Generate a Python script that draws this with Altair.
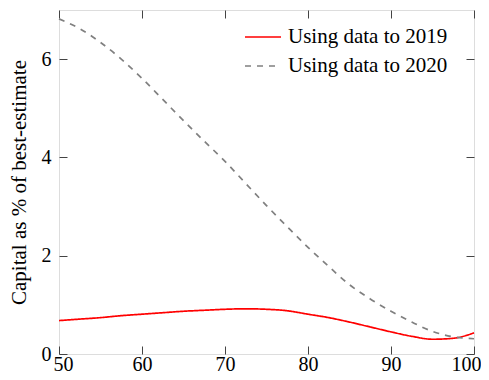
import altair as alt
import pandas as pd

x_vals = [50, 52.5, 55, 57.5, 60, 62.5, 65, 67.5, 70, 72.5, 75, 77.5, 80,
          82.5, 85, 87.5, 90, 92.5, 95, 97.5, 100]
y_2019 = [0.68, 0.71, 0.74, 0.78, 0.81, 0.84, 0.87, 0.89, 0.91, 0.92, 0.91,
          0.88, 0.81, 0.74, 0.65, 0.55, 0.45, 0.36, 0.30, 0.32, 0.43]
y_2020 = [6.82, 6.62, 6.34, 6.00, 5.61, 5.18, 4.75, 4.33, 3.92, 3.47, 3.02,
          2.59, 2.17, 1.78, 1.41, 1.12, 0.87, 0.65, 0.46, 0.35, 0.31]
series_names = ["Using data to 2019", "Using data to 2020"]
x_ticks = [50, 60, 70, 80, 90, 100]
y_ticks = [0, 2, 4, 6]

rows = []
for xv, a, b in zip(x_vals, y_2019, y_2020):
    rows.append({"x": xv, "y": a, "series": series_names[0]})
    rows.append({"x": xv, "y": b, "series": series_names[1]})
df = pd.DataFrame(rows)

FONT = "Liberation Serif"
xscale = alt.Scale(domain=[50, 100], nice=False, zero=False)
yscale = alt.Scale(domain=[0, 7], nice=False)

base_axis = dict(grid=False, domain=False, tickSize=8, offset=-8,
                 tickColor="#444444", tickWidth=1, labelFont=FONT,
                 labelFontSize=20, labelColor="black")

lines = alt.Chart(df).mark_line(strokeWidth=1.7, interpolate="monotone").encode(
    x=alt.X("x:Q", scale=xscale,
            axis=alt.Axis(values=x_ticks, title=None, orient="bottom",
                          labelPadding=0, labelFlush=False,
                          labelOffset={"condition": [
                              {"test": "datum.value == 100", "value": -8},
                              {"test": "datum.value == 50", "value": 4}],
                              "value": 0},
                          **base_axis)),
    y=alt.Y("y:Q", scale=yscale,
            axis=alt.Axis(values=y_ticks, title="Capital as % of best-estimate",
                          orient="left", titleFont=FONT, titleFontSize=21,
                          titleFontWeight="normal", titleColor="black",
                          titlePadding=12, labelPadding=8, **base_axis)),
    color=alt.Color("series:N",
                    scale=alt.Scale(domain=series_names, range=["#ff0000", "#808080"]),
                    legend=alt.Legend(title=None, orient="none", legendX=185, legendY=8,
                                      symbolType="stroke", symbolSize=1296,
                                      symbolStrokeWidth=1.7, labelFont=FONT,
                                      labelFontSize=21, labelColor="black",
                                      labelOffset=6, rowPadding=-3, padding=0)),
    strokeDash=alt.StrokeDash("series:N",
                              scale=alt.Scale(domain=series_names, range=[[1, 0], [6, 6]]),
                              legend=None),
)

mirror_axis = dict(grid=False, domain=False, tickSize=8, offset=-8,
                   tickColor="#444444", tickWidth=1, labels=False, title=None)

mirror = alt.Chart(df).mark_line(opacity=0).encode(
    x=alt.X("x:Q", scale=xscale, axis=alt.Axis(values=x_ticks, orient="top", **mirror_axis)),
    y=alt.Y("y:Q", scale=yscale, axis=alt.Axis(values=y_ticks, orient="right", **mirror_axis)),
    detail="series:N",
)

chart = alt.layer(lines, mirror).resolve_axis(x="independent", y="independent").properties(
    width=415, height=344,
    autosize=alt.AutoSizeParams(type="none"),
    padding={"left": 51, "top": 2, "right": 7, "bottom": 20},
).configure_view(stroke="black", strokeWidth=1).configure(background="white")

chart.save("out.html", embed_options={"renderer": "svg", "actions": False})
